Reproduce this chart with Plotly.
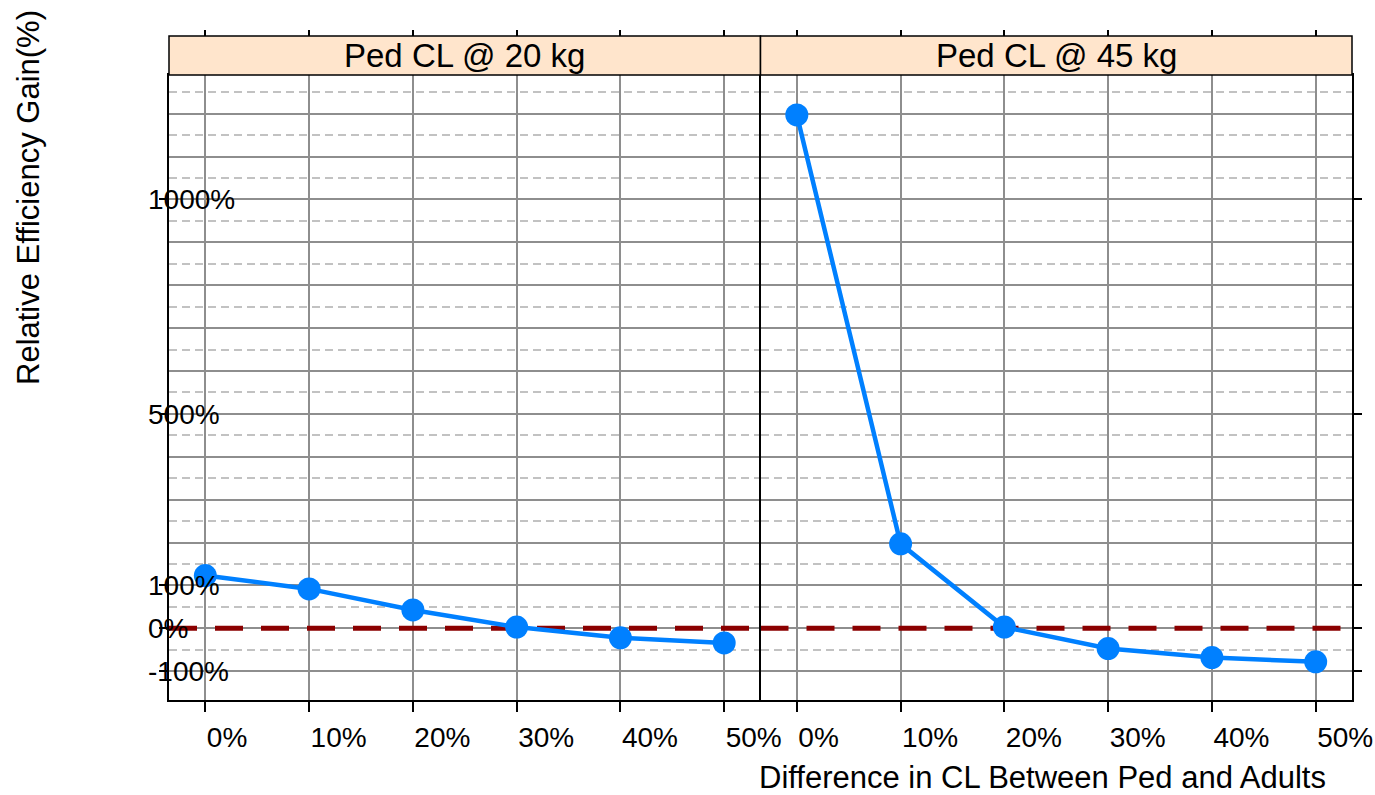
import numpy as np
import plotly.graph_objects as go

# ---- data ----
panels = ["Ped CL @ 20 kg", "Ped CL @ 45 kg"]
cl_diff = [0, 1, 2, 3, 4, 5]
cl_diff_labels = ["0%", "10%", "20%", "30%", "40%", "50%"]
gain_20kg = [123, 92, 43, 3, -22, -34]
gain_45kg = [1197, 197, 3, -47, -68, -78]
y_tick_vals = [-100, 0, 100, 500, 1000]
y_tick_text = ["-100%", "0%", "100%", "500%", "1000%"]
reference_value = 0

# ---- layout constants (body margin removed by post_script) ----
W, H = 1375, 795
PLOT_L, PLOT_R, PLOT_T, PLOT_B = 169, 1352, 36, 700   # page pixels
ML = PLOT_L
MT = PLOT_T
MR = W - PLOT_R
MB = H - PLOT_B
plot_w = W - ML - MR
plot_h = H - MT - MB
panel_top_px = 75
ydom_top = (PLOT_B - panel_top_px) / plot_h
x_range = [-0.35, 5.35]
y_range = [-167, 1290]
major_grid = list(np.arange(-100, 1201, 100))
minor_grid = list(np.arange(-50, 1251, 100))

FONT = "Liberation Sans, Arial, sans-serif"
BLUE = "#0080FF"
SOLID_GRID = "#8e8e8e"
DASH_GRID = "#c2c2c2"
STRIP = "#FFE5CC"

def px_x(px):
    return (px - PLOT_L) / plot_w

def px_y(py):
    return (PLOT_B - py) / plot_h

fig = go.Figure()

series = [gain_20kg, gain_45kg]
for i, vals in enumerate(series):
    xa = "x" if i == 0 else "x2"
    ya = "y" if i == 0 else "y2"
    # reference line at 0 across the panel
    fig.add_trace(go.Scatter(
        x=x_range, y=[reference_value, reference_value], mode="lines",
        line=dict(color="#8B0000", width=5, dash="28px,18px"),
        xaxis=xa, yaxis=ya, showlegend=False, hoverinfo="skip"))
    fig.add_trace(go.Scatter(
        x=cl_diff, y=vals, mode="lines+markers",
        line=dict(color=BLUE, width=4.5),
        marker=dict(color=BLUE, size=23),
        xaxis=xa, yaxis=ya, showlegend=False, name=panels[i]))

# invisible traces to activate overlay axes
for xa, ya in [("x", "y3"), ("x2", "y4"), ("x3", "y"), ("x4", "y2")]:
    fig.add_trace(go.Scatter(x=[None], y=[None], xaxis=xa, yaxis=ya,
                             showlegend=False, hoverinfo="skip"))

tickfont = dict(family=FONT, size=28, color="black")

def xaxis_main(domain, anchor):
    return dict(domain=domain, anchor=anchor, range=x_range,
                tickmode="array", tickvals=cl_diff, ticktext=cl_diff_labels,
                ticks="outside", ticklen=10, tickwidth=1.5, tickcolor="black",
                ticklabelposition="outside right", ticklabelstandoff=12,
                ticklabeloverflow="allow",
                tickfont=tickfont,
                showgrid=True, gridcolor=SOLID_GRID, gridwidth=1.5,
                showline=True, mirror=True, linecolor="black", linewidth=1.5,
                zeroline=False, fixedrange=True)

def xaxis_top(overlay):
    return dict(overlaying=overlay, anchor="free", position=1, side="top",
                range=x_range, tickmode="array", tickvals=cl_diff,
                ticks="outside", ticklen=6, tickwidth=1.5, tickcolor="black",
                showticklabels=False, showgrid=False, showline=False,
                zeroline=False)

def yaxis_main(anchor, mirror, **kw):
    d = dict(domain=[0, ydom_top], anchor=anchor, range=y_range,
             tickmode="array", tickvals=major_grid, ticks="",
             showticklabels=False,
             showgrid=True, gridcolor=SOLID_GRID, gridwidth=1.5,
             minor=dict(tickmode="array", tickvals=minor_grid, showgrid=True,
                        gridcolor=DASH_GRID, gridwidth=1.5, griddash="8px,5px",
                        ticks=""),
             showline=True, mirror=mirror, linecolor="black", linewidth=1.5,
             zeroline=False)
    d.update(kw)
    return d

fig.update_layout(
    width=W, height=H, autosize=False,
    margin=dict(l=ML, r=MR, t=MT, b=MB, autoexpand=False),
    paper_bgcolor="white", plot_bgcolor="white",
    font=dict(family=FONT, color="black"),
    xaxis=xaxis_main([0, 0.5], "y"),
    xaxis2=xaxis_main([0.5, 1], "y2"),
    xaxis3=xaxis_top("x"),
    xaxis4=xaxis_top("x2"),
    yaxis=yaxis_main("x", False),
    yaxis2=yaxis_main("x2", True, matches="y"),
    yaxis3=dict(overlaying="y", anchor="x", side="left", range=y_range,
                tickmode="array", tickvals=y_tick_vals, ticktext=y_tick_text,
                ticks="outside", ticklen=9, tickwidth=1.5, tickcolor="black",
                ticklabelposition="inside", ticklabelstandoff=-24,
                ticklabeloverflow="allow",
                tickfont=tickfont, showgrid=False, showline=False,
                zeroline=False),
    yaxis4=dict(overlaying="y2", anchor="x2", side="right", range=y_range,
                tickmode="array", tickvals=y_tick_vals,
                ticks="outside", ticklen=9, tickwidth=1.5, tickcolor="black",
                showticklabels=False, showgrid=False, showline=False,
                zeroline=False),
)

# strips
for i, label in enumerate(panels):
    xd = "x domain" if i == 0 else "x2 domain"
    fig.add_shape(type="rect", xref=xd, x0=0, x1=1, yref="paper",
                  y0=ydom_top, y1=1, fillcolor=STRIP,
                  line=dict(color="black", width=1.5), layer="above")
    fig.add_annotation(text=label, xref=xd, x=0.5, yref="paper",
                       y=(ydom_top + 1) / 2, showarrow=False,
                       xanchor="center", yanchor="middle",
                       font=dict(family=FONT, size=33, color="black"))

# axis titles
fig.add_annotation(text="Relative Efficiency Gain(%)", textangle=-90,
                   xref="paper", x=px_x(28), yref="paper", y=px_y(198),
                   showarrow=False, xanchor="center", yanchor="middle",
                   font=dict(family=FONT, size=31, color="black"))
fig.add_annotation(text="Difference in CL Between Ped and Adults",
                   xref="paper", x=px_x(1042), yref="paper", y=px_y(778),
                   showarrow=False, xanchor="center", yanchor="middle",
                   font=dict(family=FONT, size=31, color="black"))

fig.write_html(
    "out.html",
    config={"responsive": False, "displayModeBar": False},
    post_script="document.body.style.margin='0px';"
                "document.documentElement.style.overflow='hidden';",
)
